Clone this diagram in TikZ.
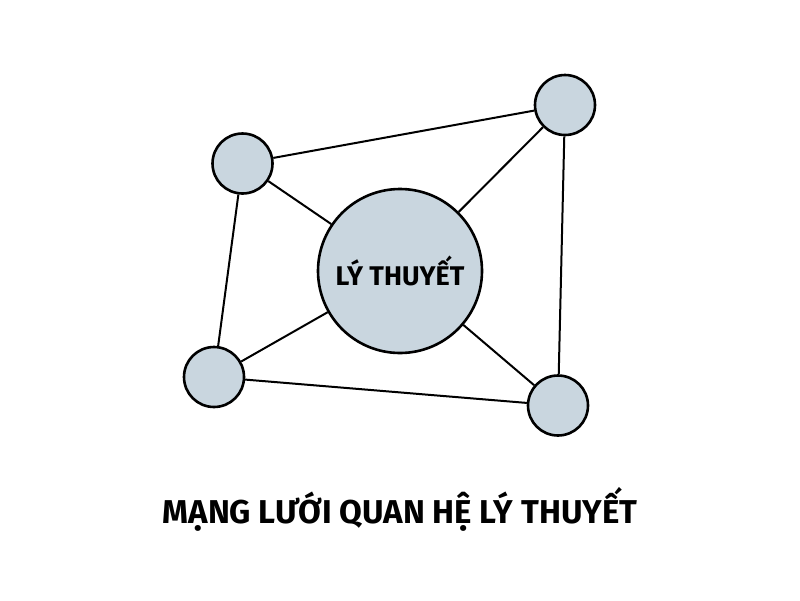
\documentclass[tikz,border=0pt]{standalone}
\usepackage{fontspec}
\setmainfont{Fira Sans}
\definecolor{nodefill}{HTML}{C9D6DF}
\begin{document}
\begin{tikzpicture}[x=1pt,y=-1pt,
  smallnode/.style={circle,draw=black,line width=2.6pt,fill=nodefill,minimum size=60pt,inner sep=0pt},
  bignode/.style={circle,draw=black,line width=2.6pt,fill=nodefill,minimum size=164pt,inner sep=0pt,font=\fontsize{27}{30}\selectfont\bfseries},
  edge/.style={line width=2pt,draw=black},
  title/.style={font=\fontsize{33}{36}\selectfont\bfseries}]
\useasboundingbox (0,0) rectangle (800,600);
\node[bignode] (c) at (400,271) {LÝ THUYẾT};
\node[smallnode] (tl) at (242.5,163.5) {};
\node[smallnode] (tr) at (565,105) {};
\node[smallnode] (bl) at (214,377) {};
\node[smallnode] (br) at (558,405.5) {};
\draw[edge] (tl) -- (tr);
\draw[edge] (tl) -- (bl);
\draw[edge] (tr) -- (br);
\draw[edge] (bl) -- (br);
\draw[edge] (c) -- (tl);
\draw[edge] (c) -- (tr);
\draw[edge] (c) -- (bl);
\draw[edge] (c) -- (br);
\node[title] (t) at (400,509) {MẠNG LƯỚI QUAN HỆ LÝ THUYẾT};
\end{tikzpicture}
\end{document}
